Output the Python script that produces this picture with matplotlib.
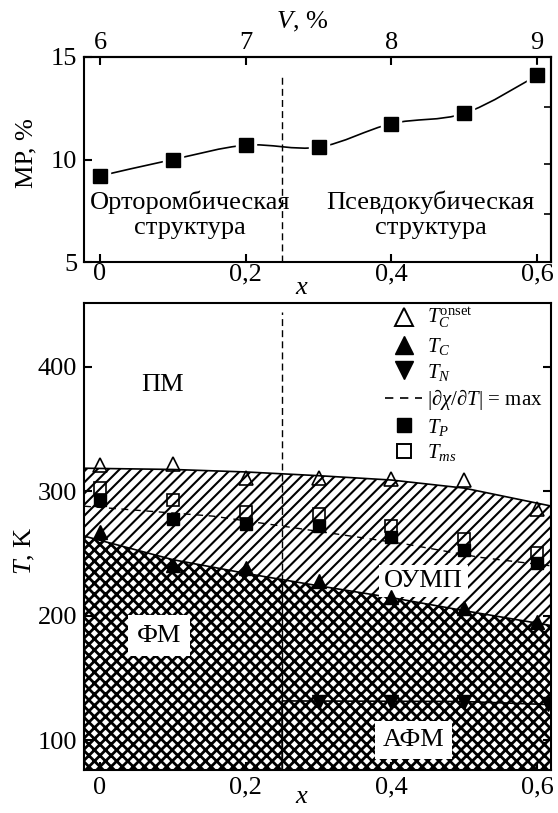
import matplotlib
matplotlib.use('Agg')
import matplotlib.pyplot as plt
from matplotlib.path import Path
from matplotlib.patches import PathPatch
from matplotlib.lines import Line2D

# ---- data ----
x_mr = [0, 0.1, 0.2, 0.3, 0.4, 0.5, 0.6]
mr = [9.2, 10.0, 10.7, 10.6, 11.75, 12.25, 14.1]

x_t = [0, 0.1, 0.2, 0.3, 0.4, 0.5, 0.6]
tc_onset = [321, 322, 311, 311, 310, 309, 286]
tc = [267, 241, 238, 228, 215, 206, 195]
tp = [293, 278, 274, 272, 263, 253, 242]
tms = [303, 293, 283, 282, 272, 262, 250]
x_n = [0.3, 0.4, 0.5, 0.615]
tn = [131, 131, 131, 129]

x_dchi = [-0.022, 0.155, 0.25, 0.42, 0.52, 0.576, 0.62]
t_dchi = [288, 280, 272, 257.5, 247, 243, 240]

x_bound = [-0.022, 0.1, 0.2, 0.3, 0.4, 0.5, 0.62]
t_upper = [318.5, 317.5, 315.5, 312.5, 309, 302.5, 288]
t_lower = [264, 245, 234, 224, 214.5, 204, 192]

x_afm = [0.25, 0.5, 0.62]
t_afm = [131.5, 131, 128.5]

x_ticks = [0, 0.2, 0.4, 0.6]
x_ticklabels = ['0', '0,2', '0,4', '0,6']
v_ticks = [6, 7, 8, 9]
x_struct = 0.25

plt.rcParams['font.family'] = ['Liberation Serif', 'DejaVu Serif']
plt.rcParams['mathtext.fontset'] = 'custom'
plt.rcParams['mathtext.rm'] = 'Liberation Serif'
plt.rcParams['mathtext.it'] = 'Liberation Serif:italic'
plt.rcParams['axes.linewidth'] = 1.5
FS = 19


def smooth_path(xs, ys):
    # Catmull-Rom through the points, rendered as bezier by matplotlib
    verts = [(xs[0], ys[0])]
    codes = [Path.MOVETO]
    n = len(xs)
    for i in range(n - 1):
        x0, y0 = (xs[i - 1], ys[i - 1]) if i > 0 else (xs[i], ys[i])
        x1, y1 = xs[i], ys[i]
        x2, y2 = xs[i + 1], ys[i + 1]
        x3, y3 = (xs[i + 2], ys[i + 2]) if i + 2 < n else (x2, y2)
        verts += [(x1 + (x2 - x0) / 6, y1 + (y2 - y0) / 6),
                  (x2 - (x3 - x1) / 6, y2 - (y3 - y1) / 6),
                  (x2, y2)]
        codes += [Path.CURVE4] * 3
    return Path(verts, codes)


def style_ticks(ax):
    ax.tick_params(direction='in', length=6, width=1.5, labelsize=FS, pad=5)


fig = plt.figure(figsize=(5.58, 8.13), dpi=100)

# ---- top panel: MR ----
ax1 = fig.add_axes([0.1505, 0.6777, 0.837, 0.2522])
ax1.add_patch(PathPatch(smooth_path(x_mr, mr), fill=False, lw=1.2, color='black'))
ax1.plot(x_mr, mr, 's', ms=15, color='white', zorder=3)
ax1.plot(x_mr, mr, 's', ms=9.5, color='black', zorder=4)
ax1.plot([x_struct, x_struct], [5, 14.15], color='black', lw=1.0, dashes=(5, 3))
ax1.set_xlim(-0.022, 0.619)
ax1.set_ylim(5, 15)
ax1.set_yticks([5, 10, 15])
ax1.set_xticks(x_ticks)
ax1.set_xticklabels(x_ticklabels)
style_ticks(ax1)
ax1.tick_params(axis='x', pad=1)
ax1.set_ylabel('МР, %', fontsize=FS)
ax1.yaxis.set_label_coords(-0.1, 0.53)
ax1.set_xlabel('$x$', fontsize=FS)
ax1.xaxis.set_label_coords(0.467, -0.075)
ax1.text(0.124, 7.9, 'Орторомбическая', ha='center', va='center', fontsize=FS)
ax1.text(0.124, 6.65, 'структура', ha='center', va='center', fontsize=FS)
ax1.text(0.454, 7.9, 'Псевдокубическая', ha='center', va='center', fontsize=FS)
ax1.text(0.454, 6.65, 'структура', ha='center', va='center', fontsize=FS)
ax1.text(0.467, 1.17, '$V$, %', transform=ax1.transAxes, ha='center', va='center', fontsize=FS)

top = ax1.secondary_xaxis('top', functions=(lambda x: 6 + 5 * x, lambda v: (v - 6) / 5))
top.set_xticks(v_ticks)
top.tick_params(direction='in', length=6, width=1.5, labelsize=FS, pad=2)

right = ax1.secondary_yaxis('right')
right.set_yticks([7.35, 9.8, 12.55])
right.tick_params(direction='in', length=5, width=1.2, labelright=False)

# ---- bottom panel: phase diagram ----
ax2 = fig.add_axes([0.1505, 0.0529, 0.837, 0.574])
ylo, yhi = 76, 451
plt.rcParams['hatch.linewidth'] = 1.5
ax2.fill_between(x_bound, t_lower, t_upper, facecolor='white', edgecolor='black',
                 hatch='///', linewidth=0, zorder=1)
plt.rcParams['hatch.linewidth'] = 2.0
ax2.fill_between(x_bound, [ylo] * len(x_bound), t_lower, facecolor='white',
                 edgecolor='black', hatch='xxx', linewidth=0, zorder=1)
ax2.plot(x_bound, t_upper, color='black', lw=1.2, zorder=2)
ax2.plot(x_bound, t_lower, color='black', lw=1.2, zorder=2)
ax2.plot([x_afm[0]] + x_afm, [ylo] + t_afm, color='black', lw=1.2, zorder=2)
ax2.plot(x_dchi, t_dchi, color='black', lw=1.0, dashes=(5, 4), zorder=2)
ax2.plot([x_struct, x_struct], [ylo, 444], color='black', lw=1.0, dashes=(5, 3), zorder=2)

ax2.plot(x_t, tc_onset, '^', ms=10.5, mfc='none', mec='black', mew=1.2, zorder=5)
ax2.plot(x_t, tc, '^', ms=10.5, color='black', zorder=5)
ax2.plot(x_n, tn, 'v', ms=10.5, color='black', zorder=5)
ax2.plot(x_t, tp, 's', ms=8.5, color='black', zorder=5)
ax2.plot(x_t, tms, 's', ms=8.5, mfc='none', mec='black', mew=1.2, zorder=5)

ax2.text(0.086, 385, 'ПМ', ha='center', va='center', fontsize=FS)
ax2.text(0.444, 228, 'ОУМП', ha='center', va='center', fontsize=FS, zorder=4,
         bbox=dict(facecolor='white', edgecolor='none', boxstyle='square,pad=0.2'))
ax2.text(0.081, 184, 'ФМ', ha='center', va='center', fontsize=FS, zorder=4,
         bbox=dict(facecolor='white', edgecolor='none', boxstyle='square,pad=0.35'))
ax2.text(0.43, 100, 'АФМ', ha='center', va='center', fontsize=FS, zorder=4,
         bbox=dict(facecolor='white', edgecolor='none', boxstyle='square,pad=0.3'))

handles = [
    Line2D([], [], marker='^', ls='none', ms=13.5, mfc='none', mec='black', mew=1.4),
    Line2D([], [], marker='^', ls='none', ms=13.5, color='black'),
    Line2D([], [], marker='v', ls='none', ms=13.5, color='black'),
    Line2D([], [], color='black', lw=1.2, dashes=(5, 4)),
    Line2D([], [], marker='s', ls='none', ms=9.5, color='black'),
    Line2D([], [], marker='s', ls='none', ms=9.5, mfc='none', mec='black', mew=1.4),
]
labels = [r'$T_C^{\rm onset}$', r'$T_C$', r'$T_N$',
          r'$|\partial\chi/\partial T|$ = max', r'$T_P$', r'$T_{ms}$']
ax2.legend(handles, labels, loc='upper left', bbox_to_anchor=(0.64, 0.998), frameon=False,
           fontsize=15, handlelength=1.8, handletextpad=0.2, labelspacing=0.22,
           borderpad=0.1, borderaxespad=0)

ax2.set_xlim(-0.022, 0.619)
ax2.set_ylim(ylo, yhi)
ax2.set_yticks([100, 200, 300, 400])
ax2.set_xticks(x_ticks)
ax2.set_xticklabels(x_ticklabels)
style_ticks(ax2)
ax2.tick_params(right=True)
ax2.set_ylabel('$T$, K', fontsize=FS)
ax2.yaxis.set_label_coords(-0.1, 0.47)
ax2.set_xlabel('$x$', fontsize=FS)
ax2.xaxis.set_label_coords(0.467, -0.034)

fig.savefig('out.png', dpi=100)
